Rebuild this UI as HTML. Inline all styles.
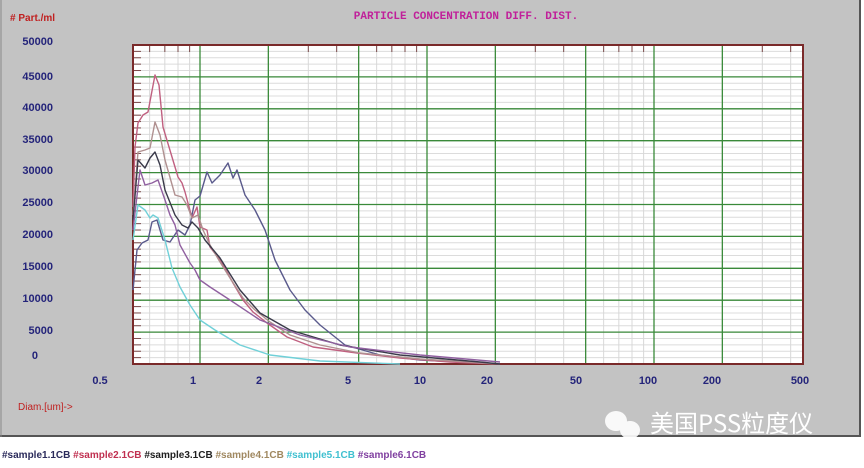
<!DOCTYPE html>
<html><head><meta charset="utf-8"><style>
body{margin:0;background:#fff;width:864px;height:468px;overflow:hidden;font-family:"Liberation Sans",sans-serif}
</style></head><body>
<svg width="864" height="468" xmlns="http://www.w3.org/2000/svg" style="position:absolute;left:0;top:0">
<rect x="0" y="0" width="861" height="437" fill="#c3c3c3"/>
<line x1="0" y1="436" x2="861" y2="436" stroke="#555" stroke-width="2"/>
<line x1="860" y1="0" x2="860" y2="437" stroke="#555" stroke-width="2"/>
<line x1="1" y1="0" x2="1" y2="437" stroke="#888" stroke-width="1"/>
<rect x="133" y="45" width="670" height="319" fill="#fff"/>
<g stroke="#d8d8d8" stroke-width="1" id="minorh"></g>
<g id="grid"></g>
<rect x="133" y="45" width="670" height="319" fill="none" stroke="#7a2a2a" stroke-width="2"/>
<text x="466" y="19" font-family="Liberation Mono,monospace" font-size="11" fill="#c0209a" text-anchor="middle" font-weight="bold">PARTICLE CONCENTRATION DIFF. DIST.</text>
<text x="10" y="21" font-size="10" font-weight="bold" fill="#c02020"># Part./ml</text>
<g font-size="11" font-weight="bold" fill="#24247a" text-anchor="end">
<text x="53" y="45">50000</text><text x="53" y="80">45000</text><text x="53" y="111">40000</text><text x="53" y="143">35000</text><text x="53" y="174">30000</text><text x="53" y="206">25000</text><text x="53" y="238">20000</text><text x="53" y="270">15000</text><text x="53" y="302">10000</text><text x="53" y="334">5000</text><text x="38" y="359">0</text>
</g>
<g font-size="11" font-weight="bold" fill="#24247a" text-anchor="middle">
<text x="100" y="384">0.5</text><text x="193" y="384">1</text><text x="259" y="384">2</text><text x="348" y="384">5</text><text x="420" y="384">10</text><text x="487" y="384">20</text><text x="576" y="384">50</text><text x="648" y="384">100</text><text x="712" y="384">200</text><text x="800" y="384">500</text>
</g>
<text x="18" y="410" font-size="10" fill="#c02020">Diam.[um]-&gt;</text>
<g fill="none" stroke-width="1.4" stroke-linejoin="round">
<polyline stroke="#5a5a8c" points="133,290 137,250 142,243 148,240 152,222 157,220 163,240 170,242 178,230 185,235 190,225 195,200 200,196 207,172 212,183 220,175 228,163 233,178 237,170 245,195 255,210 265,230 275,260 290,290 305,310 320,325 345,345 380,355 420,360 480,363 500,364"/>
<polyline stroke="#c06080" points="133,207 135,147 138,123 143,115 148,112 155,75 159,85 163,127 172,157 178,177 182,183 185,192 192,218 197,207 200,227 207,230 210,247 220,260 227,272 233,283 243,300 253,312 267,323 287,337 313,347 357,353 400,358 450,362 500,364"/>
<polyline stroke="#b09090" points="133,215 138,152 145,150 150,148 155,122 160,135 165,160 175,195 182,197 187,205 192,218 198,215 203,230 210,245 220,262 230,278 243,298 255,310 270,322 290,335 320,345 360,353 420,359 500,364"/>
<polyline stroke="#3a3a4a" points="133,220 138,160 145,168 150,158 155,152 160,165 165,190 175,215 182,225 188,228 192,222 198,228 205,240 220,258 240,290 260,313 290,330 340,345 400,355 480,362 500,364"/>
<polyline stroke="#9060a0" points="133,230 140,170 145,185 152,183 158,180 165,200 170,215 175,225 180,245 190,263 195,270 200,280 210,287 230,300 260,320 300,335 350,347 420,355 500,362"/>
<polyline stroke="#70d0d8" points="133,240 138,205 145,210 150,218 153,215 158,218 165,240 172,268 180,287 190,305 200,320 215,330 240,345 270,355 320,361 400,364"/>
</g>
<g fill="#fff" opacity="0.9">
<ellipse cx="616" cy="421" rx="11" ry="10"/><ellipse cx="630" cy="430" rx="10" ry="9"/>
</g>
<text x="650" y="432" font-family="'Noto Sans CJK SC',sans-serif" font-size="24" fill="#fff">美国PSS粒度仪</text>
<text x="2" y="458" font-size="10" font-weight="bold"><tspan fill="#2a2a5a">#sample1.1CB </tspan><tspan fill="#c03050">#sample2.1CB </tspan><tspan fill="#202020">#sample3.1CB </tspan><tspan fill="#a08860">#sample4.1CB </tspan><tspan fill="#40c0d0">#sample5.1CB </tspan><tspan fill="#8040a0">#sample6.1CB</tspan></text>
</svg>
<script>
var ns="http://www.w3.org/2000/svg",g=document.getElementById("grid"),m=document.getElementById("minorh");
function L(p,x1,y1,x2,y2,c,w){var l=document.createElementNS(ns,"line");l.setAttribute("x1",x1);l.setAttribute("y1",y1);l.setAttribute("x2",x2);l.setAttribute("y2",y2);l.setAttribute("stroke",c);l.setAttribute("stroke-width",w);p.appendChild(l);}
for(var i=0;i<50;i++){var y=364-i*6.38;L(m,133,y,803,y,"#dcdcdc",1);L(g,134,y,141,y,"#7a4a4a",1);}
for(var d=-1;d<3;d++)for(var k=1;k<10;k++){var v=k*Math.pow(10,d);var x=200+227*Math.log10(v);if(x<134||x>802)continue;
 if(k==1||k==2||k==5)L(g,x,45,x,364,"#3a8a3a",1.3);else{L(g,x,45,x,364,"#d8d8d8",1);L(g,x,46,x,52,"#7a4a4a",1);}}
for(var j=1;j<10;j++){var y=364-j*31.9;L(g,133,y,803,y,"#3a8a3a",1.3);}
</script>
</body></html>
